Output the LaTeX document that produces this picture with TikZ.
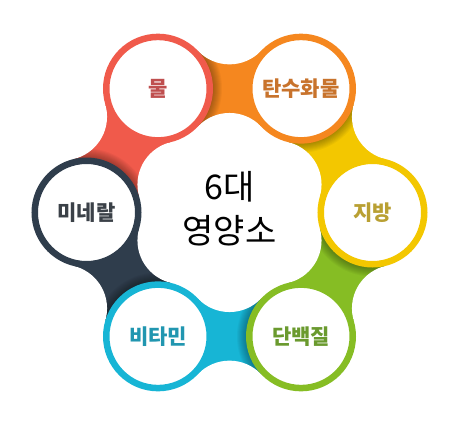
\documentclass[tikz,border=0pt]{standalone}
\usepackage{fontspec}
\newfontfamily\kr{Noto Sans CJK KR}
\usetikzlibrary{calc}
\definecolor{cRed}{HTML}{F05A4B}
\definecolor{cOra}{HTML}{F5871F}
\definecolor{cYel}{HTML}{F3C700}
\definecolor{cGrn}{HTML}{86BD24}
\definecolor{cCyn}{HTML}{17B5D5}
\definecolor{cNav}{HTML}{2F3D4C}
\definecolor{tRed}{HTML}{BF4F4F}
\definecolor{tOra}{HTML}{C8732C}
\definecolor{tYel}{HTML}{B9A033}
\definecolor{tGrn}{HTML}{6A9A2E}
\definecolor{tCyn}{HTML}{2196B0}
\definecolor{tNav}{HTML}{3B4148}
\tikzset{
  ringnode/.style n args={2}{circle, fill=white, draw=#1, line width=6.5pt,
    inner sep=0pt, minimum size=103.5pt, text=#2,
    font=\kr\bfseries\fontsize{21}{25}\selectfont},
  cutter/.style={fill=white},
  titletext/.style={align=center, text=black, font=\kr\fontsize{34}{44}\selectfont}
}
\begin{document}
\begin{tikzpicture}[x=1pt,y=-1pt]
\useasboundingbox (0,0) rectangle (459,432);
\coordinate (O) at (229.5,212.5);
\foreach \n/\a in {fat/0,pro/60,vit/120,min/180,wat/240,car/300}
  \coordinate (\n) at ($(O)+(\a:143)$);
% bands
\foreach \p/\c/\col in {wat/car/cOra, car/fat/cYel, fat/pro/cGrn, pro/vit/cCyn, vit/min/cNav, min/wat/cRed}{
  \fill[\col] ($(\p)!37.5pt!90:(\c)$) -- ($(\c)!37.5pt!-90:(\p)$) -- ($(\c)!37.5pt!90:(\p)$) -- ($(\p)!37.5pt!-90:(\c)$) -- cycle;
  \begin{scope}
    \clip ($(\p)!37.5pt!90:(\c)$) -- ($(\c)!37.5pt!-90:(\p)$) -- ($(\c)!37.5pt!90:(\p)$) -- ($(\p)!37.5pt!-90:(\c)$) -- cycle;
    \foreach \k in {1,...,9}
      \fill[black,opacity=0.035] (\p) circle[radius=55+\k];
  \end{scope}
  \coordinate (m) at ($(\p)!0.5!(\c)$);
  \fill[cutter] ($(m)!67.9pt!90:(\c)$) circle[radius=43.6];
  \fill[cutter] ($(m)!67.9pt!-90:(\c)$) circle[radius=43.6];
}
% circles
\node[ringnode={cRed}{tRed}] (nwat) at (wat) {물};
\node[ringnode={cOra}{tOra}] (ncar) at (car) {탄수화물};
\node[ringnode={cYel}{tYel}] (nfat) at (fat) {지방};
\node[ringnode={cGrn}{tGrn}] (npro) at (pro) {단백질};
\node[ringnode={cCyn}{tCyn}] (nvit) at (vit) {비타민};
\node[ringnode={cNav}{tNav}] (nmin) at (min) {미네랄};
\node[titletext] (title) at (229.5,209) {6대\\영양소};
\end{tikzpicture}
\end{document}
